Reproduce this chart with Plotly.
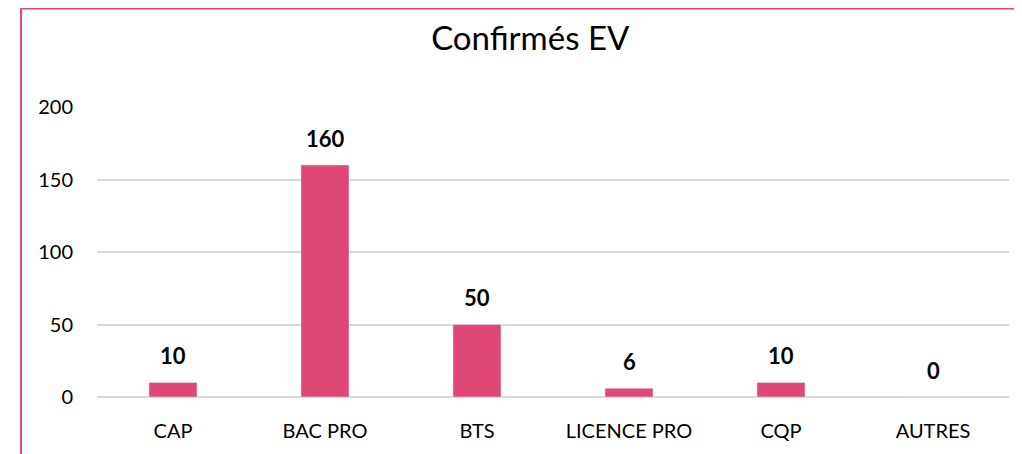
import plotly.graph_objects as go

categories = ["CAP", "BAC PRO", "BTS", "LICENCE PRO", "CQP", "AUTRES"]
values = [10, 160, 50, 6, 10, 0]
y_ticks = [0, 50, 100, 150, 200]

bar_color = "#DF4777"
font_family = "Lato, 'Open Sans', sans-serif"

fig = go.Figure()
fig.add_trace(go.Bar(x=categories, y=values, marker_color=bar_color, width=0.316,
                     hoverinfo="x+y"))

for c, v in zip(categories, values):
    fig.add_annotation(x=c, y=v, text=f"<b>{v}</b>", showarrow=False,
                       yanchor="middle", yshift=27,
                       font=dict(size=22, color="#000000", family=font_family))

fig.add_shape(type="rect", xref="paper", yref="paper",
              x0=-0.0833, x1=1.05, y0=-0.4, y1=1.3397,
              line=dict(color="#DF4777", width=2), fillcolor="rgba(0,0,0,0)")

fig.update_layout(
    width=1022, height=454,
    margin=dict(l=89, r=21, t=99, b=65),
    paper_bgcolor="white", plot_bgcolor="white",
    showlegend=False,
    title=dict(text="Confirmés EV", x=0.511, xanchor="center", y=0.934, yanchor="middle",
               yref="container",
               font=dict(size=33, color="#000000", family=font_family)),
    font=dict(family=font_family, color="#000000"),
    xaxis=dict(showgrid=False, showline=False, ticks="", tickfont=dict(size=20),
               ticklabelstandoff=20),
    yaxis=dict(range=[0, 200], tickvals=y_ticks, showgrid=True, gridcolor="#D9D9D9",
               gridwidth=1.5, zeroline=True, zerolinecolor="#D9D9D9", zerolinewidth=1.5,
               showline=False, ticks="", tickfont=dict(size=20), ticklabelstandoff=23),
)

fig.write_html("out.html")
